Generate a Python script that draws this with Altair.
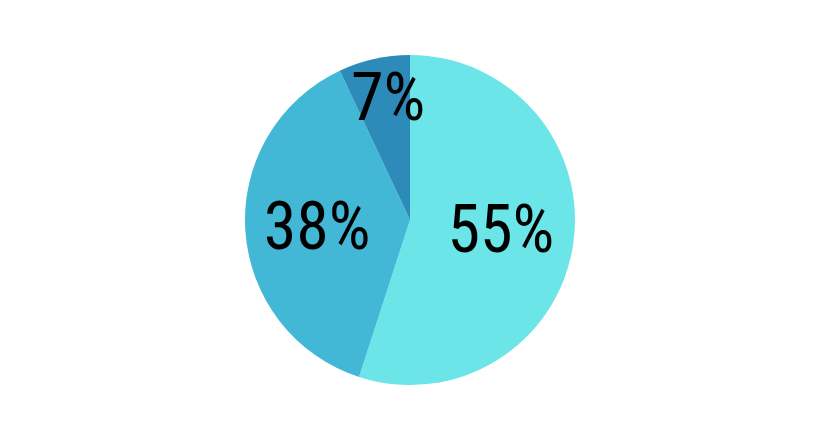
import altair as alt
import pandas as pd

labels = ["55%", "38%", "7%"]
values = [55, 38, 7]
colors = ["#6be5e8", "#43b8d6", "#2d8bba"]
order = [0, 1, 2]

df = pd.DataFrame({"cat": labels, "value": values, "idx": order})

pie = alt.Chart(df).mark_arc(outerRadius=165, stroke=None).encode(
    theta=alt.Theta("value:Q", stack=True),
    order=alt.Order("idx:Q"),
    color=alt.Color("cat:N", scale=alt.Scale(domain=labels, range=colors), legend=None),
)

tbase = alt.Chart(df).transform_window(
    cum="sum(value)", sort=[{"field": "idx"}], frame=[None, 0]
).transform_calculate(
    mid="datum.cum - datum.value / 2"
).encode(
    theta=alt.Theta("mid:Q", scale=alt.Scale(domain=[0, 100], range=[0, 6.283185307])),
    text="cat:N",
)

font = "'Roboto Condensed', 'DejaVu Sans Condensed', 'Liberation Sans Narrow', sans-serif"
style = dict(font=font, fontSize=66, color="black", align="center", baseline="middle")

t55 = tbase.transform_filter("datum.idx == 0").mark_text(radius=92, dy=-2, **style)
t38 = tbase.transform_filter("datum.idx == 1").mark_text(radius=92, dy=3, dx=-1, **style)
t7 = tbase.transform_filter("datum.idx == 2").mark_text(radius=123, dx=5, **style)

chart = alt.layer(pie, t55, t38, t7).properties(
    width=804, height=424, padding=0, autosize=alt.AutoSizeParams(type="none")
).configure_view(stroke=None)

chart.save("out.html", embed_options={"renderer": "svg", "actions": False})
